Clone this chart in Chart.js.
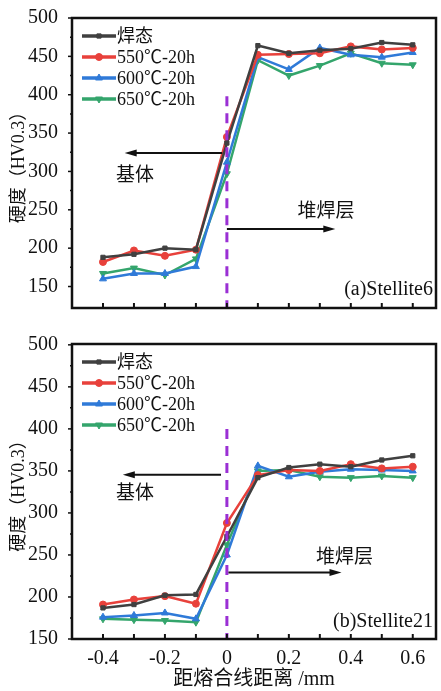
<!DOCTYPE html>
<html><head><meta charset="utf-8">
<script src="https://cdn.jsdelivr.net/npm/chart.js@4/dist/chart.umd.min.js"></script>
<style>
html,body{margin:0;padding:0;background:#fff;}
#wrap{position:relative;width:441px;height:691px;overflow:hidden;background:#fff;}
#ca{position:absolute;left:0;top:0;}
#cb{position:absolute;left:0;top:326px;}
</style></head><body>
<div id="wrap"><canvas id="ca" width="441" height="326"></canvas><canvas id="cb" width="441" height="365"></canvas></div>
<script>
const distances = [-0.4,-0.3,-0.2,-0.1,0,0.1,0.2,0.3,0.4,0.5,0.6];
const seriesLabels = ['焊态','550℃-20h','600℃-20h','650℃-20h'];
const stellite6AsWelded = [188,192,200,198,337,464,454,458,460,468,465];
const stellite6At550 = [182,197,190,198,345,452,453,454,463,459,461];
const stellite6At600 = [160,167,167,176,312,449,433,461,452,449,455];
const stellite6At650 = [167,174,165,186,297,445,425,438,454,441,439];
const stellite21AsWelded = [187,191,202,203,272,342,354,358,355,363,368];
const stellite21At550 = [191,197,201,192,288,345,351,350,358,353,355];
const stellite21At600 = [176,178,181,174,250,356,343,349,352,351,350];
const stellite21At650 = [174,173,172,170,262,350,351,343,342,344,342];
const hardnessTicks = [150,200,250,300,350,400,450,500];
const distanceTicks = [-0.4,-0.2,0,0.2,0.4,0.6];
const minorDistanceTicks = [-0.4,-0.3,-0.2,-0.1,0,0.1,0.2,0.3,0.4,0.5,0.6];

const SERIF = "'Liberation Serif','Noto Sans CJK SC',serif";
const colors = ['#404040','#e8413b','#2f7ad8','#34a56c'];
const styles = [
  {pointStyle:'rect', radius:3, rotation:0},
  {pointStyle:'circle', radius:3.5, rotation:0},
  {pointStyle:'triangle', radius:4, rotation:0},
  {pointStyle:'triangle', radius:4, rotation:180}
];

function mkDatasets(seriesList){
  return seriesList.map((arr,i)=>({
    label: seriesLabels[i],
    data: distances.map((d,j)=>({x:d,y:arr[j]})),
    borderColor: colors[i], backgroundColor: colors[i],
    borderWidth: 2.5, tension: 0,
    pointStyle: styles[i].pointStyle, pointRadius: styles[i].radius,
    pointRotation: styles[i].rotation, pointBorderWidth: 1
  }));
}

function arrow(ctx, x1, y, x2){
  ctx.strokeStyle = '#111'; ctx.fillStyle = '#111'; ctx.lineWidth = 2;
  const dir = x2 > x1 ? 1 : -1;
  ctx.beginPath(); ctx.moveTo(x1, y); ctx.lineTo(x2 - dir*10, y); ctx.stroke();
  ctx.beginPath(); ctx.moveTo(x2, y); ctx.lineTo(x2 - dir*12, y-3.5); ctx.lineTo(x2 - dir*12, y+3.5); ctx.closePath(); ctx.fill();
}

const overlay = {
  id: 'overlay',
  afterDatasetsDraw(chart, args, o){
    const {ctx, chartArea:a, scales:{x, y}} = chart;
    ctx.save();
    const x0 = x.getPixelForValue(0);
    ctx.strokeStyle = '#9a2fd4'; ctx.lineWidth = 3; ctx.setLineDash([10,7]);
    ctx.beginPath(); ctx.moveTo(x0, y.getPixelForValue(o.dashTop)); ctx.lineTo(x0, a.bottom); ctx.stroke();
    ctx.setLineDash([]);
    arrow(ctx, x.getPixelForValue(o.leftArrow[0]), y.getPixelForValue(o.leftArrow[2]), x.getPixelForValue(o.leftArrow[1]));
    arrow(ctx, x.getPixelForValue(o.rightArrow[0]), y.getPixelForValue(o.rightArrow[2]), x.getPixelForValue(o.rightArrow[1]));
    ctx.fillStyle = '#111';
    ctx.font = "19px " + SERIF; ctx.textAlign = 'center'; ctx.textBaseline = 'middle';
    ctx.fillText('基体', x.getPixelForValue(o.leftLabel[0]), y.getPixelForValue(o.leftLabel[1]));
    ctx.fillText('堆焊层', x.getPixelForValue(o.rightLabel[0]), y.getPixelForValue(o.rightLabel[1]));
    ctx.font = "20px " + SERIF; ctx.textAlign = 'right';
    ctx.fillText(o.tag, a.right - 3, a.bottom - o.tagOffset);
    ctx.textAlign = 'left'; ctx.font = "18px " + SERIF;
    chart.data.datasets.forEach((ds, i) => {
      const cy = a.top + 18 + i*21;
      ctx.strokeStyle = ds.borderColor; ctx.lineWidth = 3.5;
      ctx.beginPath(); ctx.moveTo(a.left + 10, cy); ctx.lineTo(a.left + 44, cy); ctx.stroke();
      ctx.fillStyle = ds.borderColor; ctx.lineWidth = 1;
      Chart.helpers.drawPoint(ctx, {pointStyle: ds.pointStyle, radius: ds.pointRadius, rotation: ds.pointRotation, borderWidth: 1}, a.left + 27, cy);
      ctx.fillStyle = '#111';
      ctx.fillText(ds.label, a.left + 45, cy + 1);
    });
    ctx.strokeStyle = '#111'; ctx.lineWidth = 2;
    minorDistanceTicks.forEach(v => {
      const px = x.getPixelForValue(v);
      ctx.beginPath(); ctx.moveTo(px, a.bottom); ctx.lineTo(px, a.bottom - 5); ctx.stroke();
    });
    ctx.lineWidth = 1.5;
    for (let v = 150; v <= 500; v += 25) {
      const py = y.getPixelForValue(v);
      const len = (v % 50 === 0) ? 4 : 2;
      ctx.beginPath(); ctx.moveTo(a.left, py); ctx.lineTo(a.left - len, py); ctx.stroke();
    }
    ctx.lineWidth = 2.5; ctx.strokeStyle = '#111';
    ctx.strokeRect(a.left, a.top, a.right - a.left, a.bottom - a.top);
    ctx.restore();
  }
};

function makeChart(id, seriesList, yMin, yMax, topPad, xHeight, showX, opts){
  return new Chart(document.getElementById(id), {
    type: 'line',
    data: {datasets: mkDatasets(seriesList)},
    options: {
      responsive: false, animation: false,
      layout: {padding: {top: topPad, right: 2, left: 0, bottom: 0}},
      plugins: {legend: {display: false}, tooltip: {enabled: false}, overlay: opts},
      scales: {
        x: {
          type: 'linear', min: -0.5, max: 0.675,
          afterBuildTicks: s => { s.ticks = distanceTicks.map(v => ({value: v})); },
          afterFit: s => { s.height = xHeight; },
          grid: {display: false}, border: {display: false},
          ticks: {display: showX, padding: 0, color: '#111', font: {family: SERIF, size: 20}, callback: v => String(v), maxRotation: 0, autoSkip: false},
          title: {display: showX, text: '距熔合线距离 /mm', color: '#111', font: {family: SERIF, size: 20}, padding: {top: 0, bottom: -1}}
        },
        y: {
          min: yMin, max: yMax,
          afterBuildTicks: s => { s.ticks = hardnessTicks.map(v => ({value: v})); },
          afterFit: s => { s.width = 72; },
          grid: {display: false}, border: {display: false},
          ticks: {padding: 6, color: '#111', font: {family: SERIF, size: 20}},
          title: {display: true, text: '硬度（HV0.3）', color: '#111', font: {family: SERIF, size: 18}, padding: {top: 8, bottom: 0}}
        }
      }
    },
    plugins: [overlay]
  });
}

makeChart('ca', [stellite6AsWelded, stellite6At550, stellite6At600, stellite6At650], 122, 500, 15, 6, false, {
  dashTop: 398, leftArrow: [-0.015, -0.33, 324], rightArrow: [0, 0.35, 225],
  leftLabel: [-0.297, 294], rightLabel: [0.32, 247], tag: '(a)Stellite6', tagOffset: 18
});
makeChart('cb', [stellite21AsWelded, stellite21At550, stellite21At600, stellite21At650], 150, 501, 6, 52, true, {
  dashTop: 400, leftArrow: [-0.019, -0.336, 345.5], rightArrow: [0.005, 0.37, 229],
  leftLabel: [-0.297, 322.6], rightLabel: [0.38, 246], tag: '(b)Stellite21', tagOffset: 17
});
</script>
</body></html>
